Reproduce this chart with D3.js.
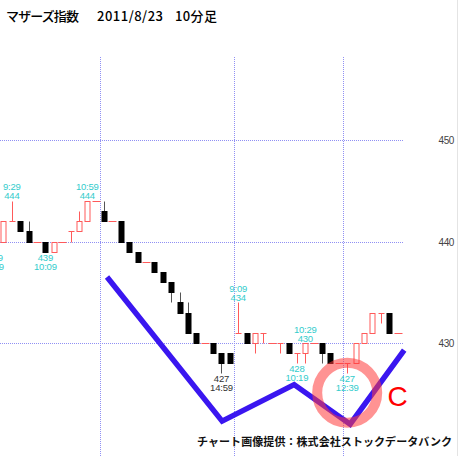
<!DOCTYPE html>
<html>
<head>
<meta charset="utf-8">
<script src="https://cdn.jsdelivr.net/npm/d3@7"></script>
<style>
body { margin: 0; background: #fff; }
svg { display: block; }
</style>
</head>
<body>
<svg id="chart" width="458" height="456"></svg>
<script>
// 10 min bars, 8/22 9:09 .. 8/23 13:39 (index 0 is off the left edge)
var opens  = [440,440,442,442,441,440,440,439,440,441,441,442,444,
              443,442,442,440,439,438,438,437,436,434,433,431,430,430,429,429,
              431,431,430,431,430,430,430,429,429,430,430,429,428,
              428,428,430,431,433,433,431];
var highs  = [440.5,442,444,442,442,440,440,440,440,441,443,444,444,
              444,442,442,440,439,438,438,437,436,435,434,431,430,430,429,429,
              434,431,431,431,430,430,430,429,430,430,430,429,428,
              428,430,431,433,433,433,431];
var lows   = [439,440,442,441,440,440,439,439,440,440,441,442,444,
              442,442,440,439,438,438,437,436,434,433,431,430,430,429,427,428,
              431,430,429,430,430,429,429,428,428,430,428,428,428,
              427,428,430,431,432,431,431];
var closes = [440,442,442,441,440,440,439,440,440,441,442,444,444,
              442,442,440,439,438,438,437,436,435,433,431,430,430,429,428,428,
              431,430,431,431,430,430,429,429,430,430,429,428,428,
              428,430,431,433,433,431,431];

var priceTicks = [430, 440, 450];
var sessionBreaks = [12.5, 28.5, 41.5];

// high / low marks
var marks = [
  { i: 0,  kind: "lo", time: "9:09",  value: "439", color: "#33cccc" },
  { i: 2,  kind: "hi", time: "9:29",  value: "444", color: "#33cccc" },
  { i: 6,  kind: "lo", time: "10:09", value: "439", color: "#33cccc" },
  { i: 11, kind: "hi", time: "10:59", value: "444", color: "#33cccc" },
  { i: 27, kind: "lo", time: "14:59", value: "427", color: "#333333" },
  { i: 29, kind: "hi", time: "9:09",  value: "434", color: "#33cccc" },
  { i: 36, kind: "lo", time: "10:19", value: "428", color: "#33cccc" },
  { i: 37, kind: "hi", time: "10:29", value: "430", color: "#33cccc" },
  { i: 42, kind: "lo", time: "12:39", value: "427", color: "#33cccc" }
];

// hand drawn annotation, in (bar index, price)
var zigzag = [[13.35, 436.5], [27.08, 422.3], [35.67, 425.9], [42.35, 422.0], [48.8, 429.3]];
var ringCenter = [42.0, 425.1];
var letterAt = [46.8, 423.8];

var svg = d3.select("#chart");
var up = "#ff5a5a", down = "#000", wick = "#555";

var x = d3.scaleLinear().domain([0, 48]).range([-4.9, 397.5]);
var y = d3.scaleLinear().domain([430, 450]).range([343, 140]);

function px(v) { return Math.round(v) + 0.5; }

// grid
svg.append("g").selectAll("line").data(priceTicks).join("line")
  .attr("x1", 0).attr("x2", 403)
  .attr("y1", function (d) { return px(y(d)); })
  .attr("y2", function (d) { return px(y(d)); })
  .attr("stroke", "#9090f4").attr("stroke-dasharray", "1,1");

svg.append("g").selectAll("line").data(sessionBreaks).join("line")
  .attr("x1", function (d) { return px(x(d)); })
  .attr("x2", function (d) { return px(x(d)); })
  .attr("y1", 57).attr("y2", 456)
  .attr("stroke", "#9090f4").attr("stroke-dasharray", "1,1");

svg.append("line").attr("x1", 457.5).attr("x2", 457.5).attr("y1", 0).attr("y2", 456)
  .attr("stroke", "#e4e4e4");

svg.append("g").selectAll("text").data(priceTicks).join("text")
  .attr("x", 454).attr("y", function (d) { return y(d) + 4; })
  .attr("text-anchor", "end")
  .attr("font-family", "Liberation Sans, Arial, sans-serif")
  .attr("font-size", 10).attr("letter-spacing", -0.4)
  .attr("fill", "#444")
  .text(function (d) { return d; });

// candles
var bars = svg.append("g");
d3.range(opens.length).forEach(function (i) {
  var o = opens[i], h = highs[i], l = lows[i], c = closes[i];
  var cx = px(x(i));
  if (c == o) {
    var yo = px(y(o));
    if (h == l) {
      bars.append("line").attr("x1", cx - 4).attr("x2", cx + 4)
        .attr("y1", yo).attr("y2", yo).attr("stroke", up);
    } else {
      bars.append("line").attr("x1", cx).attr("x2", cx)
        .attr("y1", px(y(h))).attr("y2", px(y(l))).attr("stroke", up);
      bars.append("line").attr("x1", cx - 3).attr("x2", cx + 3)
        .attr("y1", yo).attr("y2", yo).attr("stroke", up);
    }
    return;
  }
  var isUp = c > o;
  bars.append("line").attr("x1", cx).attr("x2", cx)
    .attr("y1", px(y(h))).attr("y2", px(y(l)))
    .attr("stroke", isUp ? up : wick);
  var top = Math.round(y(Math.max(o, c))), bot = Math.round(y(Math.min(o, c)));
  bars.append("rect")
    .attr("x", cx - 2.5).attr("y", top + 0.5)
    .attr("width", 5).attr("height", bot - top)
    .attr("fill", isUp ? "#fff" : down)
    .attr("stroke", isUp ? up : down);
});

// high / low labels
var lab = svg.append("g")
  .attr("font-family", "Liberation Sans, Arial, sans-serif")
  .attr("font-size", 9.5).attr("letter-spacing", -0.2)
  .attr("text-anchor", "middle");
marks.forEach(function (m) {
  var cx = x(m.i);
  var lines, base;
  if (m.kind == "hi") {
    base = y(highs[m.i]) - 1.5;
    lines = [[m.value, base], [m.time, base - 9]];
  } else {
    base = y(lows[m.i]) + 9;
    lines = [[m.value, base], [m.time, base + 9]];
  }
  lines.forEach(function (t) {
    lab.append("text").attr("x", cx).attr("y", t[1]).attr("fill", m.color).text(t[0]);
  });
});

// annotation
svg.append("path")
  .attr("d", d3.line().x(function (d) { return x(d[0]); }).y(function (d) { return y(d[1]); })(zigzag))
  .attr("fill", "none").attr("stroke", "#3a16f0").attr("stroke-width", 5.5)
  .attr("stroke-linejoin", "miter");

svg.append("circle")
  .attr("cx", x(ringCenter[0])).attr("cy", y(ringCenter[1])).attr("r", 30)
  .attr("fill", "none").attr("stroke", "#ff3b3b").attr("stroke-width", 10)
  .attr("opacity", 0.55);

svg.append("text")
  .attr("x", x(letterAt[0])).attr("y", y(letterAt[1]))
  .attr("font-family", "Liberation Sans, Arial, sans-serif")
  .attr("font-size", 28).attr("fill", "#f00")
  .text("C");

// title + credit
var title = svg.append("g")
  .attr("font-family", "Noto Sans CJK JP, sans-serif")
  .attr("font-size", 13).attr("font-weight", 500).attr("fill", "#000");
title.append("text").attr("x", 6).attr("y", 21).attr("textLength", 73).text("マザーズ指数");
title.append("text").attr("x", 97).attr("y", 21).attr("textLength", 66).text("2011/8/23");
title.append("text").attr("x", 175).attr("y", 21).attr("textLength", 42).text("10分足");

svg.append("text")
  .attr("x", 197).attr("y", 446)
  .attr("font-family", "Noto Sans CJK JP, sans-serif")
  .attr("font-size", 11).attr("font-weight", "bold")
  .attr("textLength", 255)
  .attr("fill", "#111")
  .text("チャート画像提供：株式会社ストックデータバンク");
</script>
</body>
</html>
